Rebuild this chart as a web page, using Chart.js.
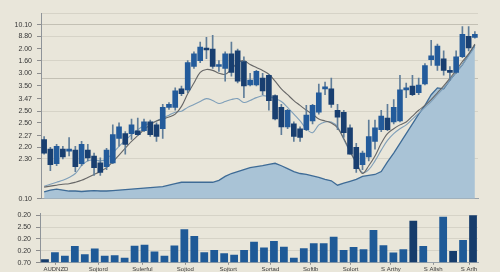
<!DOCTYPE html>
<html>
<head>
<meta charset="utf-8">
<script src="https://cdn.jsdelivr.net/npm/chart.js@4.4.1/dist/chart.umd.min.js"></script>
<style>
  html, body { margin: 0; padding: 0; background: #e9e6da; }
  #wrap { position: relative; width: 500px; height: 272px; overflow: hidden; }
  #price { position: absolute; left: 0; top: 0; }
  #vol   { position: absolute; left: 0; top: 204px; }
</style>
</head>
<body>
<div id="wrap">
  <canvas id="price" width="500" height="208"></canvas>
  <canvas id="vol" width="500" height="68"></canvas>
</div>
<script>
/* global Chart */

// --- datos: velas (70 sesiones) ---
const opens  = [61, 51, 36, 51, 49, 50, 36, 50, 44, 37, 33, 37, 62, 67, 67, 70, 70, 79, 76, 72,
                94, 94, 113, 112, 136, 142, 155, 154, 136, 134, 149, 152, 141, 117, 117, 124, 127, 106, 94, 74,
                77, 72, 71, 80, 89, 113, 113, 91, 89, 73, 53, 35, 43, 59, 71, 83, 79, 80, 112, 116,
                109, 118, 143, 137, 144, 132, 130, 146, 167, 166];
const closes = [47, 35, 54, 43, 51, 33, 56, 42, 32, 27, 50, 66, 74, 56, 76, 66, 79, 66, 64, 94,
                97, 111, 108, 140, 149, 156, 153, 136, 138, 149, 130, 121, 116, 122, 131, 111, 101, 82, 74, 91,
                64, 63, 86, 96, 109, 115, 97, 84, 68, 46, 31, 47, 64, 73, 85, 71, 94, 112, 114, 107,
                117, 137, 147, 157, 132, 130, 146, 169, 155, 169];
const highs  = [64, 53, 56, 54, 63, 54, 59, 56, 47, 42, 52, 76, 78, 69, 82, 83, 82, 81, 78, 97,
                99, 114, 116, 142, 151, 161, 166, 168, 142, 151, 161, 154, 146, 129, 132, 129, 128, 107, 97, 92,
                79, 74, 96, 97, 118, 120, 124, 97, 91, 76, 57, 49, 81, 81, 91, 97, 102, 127, 119, 127,
                124, 139, 163, 159, 152, 136, 152, 177, 177, 172];
const lows   = [46, 29, 34, 41, 44, 28, 34, 39, 24, 24, 30, 36, 54, 46, 61, 65, 69, 64, 59, 62,
                92, 91, 106, 109, 134, 140, 144, 134, 131, 121, 126, 119, 104, 116, 116, 107, 91, 81, 66, 72,
                59, 59, 70, 77, 87, 107, 94, 71, 63, 46, 27, 30, 39, 51, 69, 70, 77, 79, 104, 106,
                107, 117, 137, 132, 127, 122, 129, 145, 152, 165];

// medias móviles y tendencia (área)
const maSlow = [12, 13, 14, 15, 15.5, 17, 19, 22, 25, 28, 32, 38, 45, 52, 59, 65, 71, 76, 80, 82,
                84, 87, 95, 108, 119, 130, 133, 132, 129, 128, 133, 140, 142, 138, 135, 132, 128, 121, 113, 107,
                101, 96, 91, 87, 82, 80, 78, 73, 62, 49, 37, 26, 34, 44, 57, 67, 72, 76, 79, 85,
                91, 96, 102, 109, 116, 124, 132, 141, 149, 159];
const maFast = [13, 15, 17, 19, 22, 26, 34, 39, 40, 39, 41, 47, 54, 60, 66, 71, 75, 78, 80, 83,
                86, 89, 90, 94, 97, 100, 103, 101, 98, 100, 102, 103, 99, 101, 104, 106, 105, 103, 100, 94,
                87, 80, 72, 68, 76, 79, 79, 74, 61, 48, 37, 27, 30, 39, 50, 60, 67, 72, 76, 82,
                88, 94, 100, 107, 114, 122, 130, 138, 147, 156];
const trend  = [7, 9, 10, 9, 8, 8, 7.5, 8, 8.5, 8, 8, 8.5, 9, 9.5, 10, 10.5, 11, 11.5, 12, 12.5,
                14, 15.5, 17, 17, 17, 17, 17, 17, 19, 23, 26, 28, 30, 32, 33, 34, 35.5, 36.5, 34, 31,
                28, 26, 25, 23.5, 22, 20, 18.5, 14, 16, 18, 20, 23, 24, 25, 28, 38, 47, 57, 67, 77,
                87, 96, 107, 114, 113, 122, 130, 138, 148, 158];

// ejes del panel de precio
const priceTickValues = [191, 179, 167, 154, 142, 129, 124, 116, 103, 90, 78, 65, 53, 41, 0];
const priceTickLabels = ['', '10.10', '8.80', '2.00', '1.60', '3.00', '', '3.50', '3.47', '2.50', '2.50', '2.27', '2.20', '2.30', '0.10'];
const priceGridLevels = [191, 179, 167, 142, 124, 90, 41];

// --- datos: volumen (44 barras, una vacía) ---
const volume = [3.7, 10.7, 7, 17, 8.7, 14.3, 7, 7.7, 5, 17.3, 18.3, 11.3, 7, 17.5, 33.7, 27, 10.7, 13, 9.7, 8,
                13, 21.3, 15.3, 22, 16.3, 5, 14.7, 19.7, 19.7, 26.3, 13, 16, 13.7, 33, 17.7, 10.3, 13.7, 42.3, 17, null,
                46.3, 12, 23, 48];
const volumeTickValues = [48, 36, 24, 12, 0];
const volumeTickLabels = ['0.20', '2.50', '0.20', '0.20', '0.70'];

// etiquetas de fecha (posición en unidades de barra de volumen)
const dateTickValues = [1.6, 5.85, 10.3, 14.6, 18.9, 23.15, 27.2, 31.2, 35.25, 39.5, 43.1];
const dateTickLabels = ['AUDNZD', 'Sojtord', 'Sulerful', 'Sojtod', 'Sojtort', 'Sortad', 'Softlb', 'Solort', 'S Arthy', 'S Allsh', 'S Arlh'];

// --- estilo ---
const FONT   = "'Liberation Sans', Arial, sans-serif";
const UP     = '#235b9b';
const DOWN   = '#193f70';
const WICK   = '#5f7d99';
const HEAVY  = [0, 37, 41, 43];   // barras de volumen en azul oscuro

const sessions = opens.map((_, i) => i + 1);
const volumeSlots = volume.map((_, i) => i + 1);

new Chart(document.getElementById('price'), {
  type: 'bar',
  data: {
    labels: sessions,
    datasets: [
      {
        type: 'bar',
        data: opens.map((o, i) => [o, closes[i]]),
        backgroundColor: ctx => closes[ctx.dataIndex] >= opens[ctx.dataIndex] ? UP : DOWN,
        barThickness: 5,
        grouped: false,
        order: 0,
      },
      {
        type: 'bar',
        data: lows.map((l, i) => [l, highs[i]]),
        backgroundColor: WICK,
        barThickness: 1,
        grouped: false,
        order: 1,
      },
      {
        type: 'line',
        data: maSlow,
        borderColor: '#676767',
        borderWidth: 1.1,
        pointRadius: 0,
        tension: 0.35,
        order: 2,
      },
      {
        type: 'line',
        data: maFast,
        borderColor: '#7f9fb9',
        borderWidth: 1.1,
        pointRadius: 0,
        tension: 0.35,
        order: 3,
      },
      {
        type: 'line',
        data: trend,
        fill: 'origin',
        backgroundColor: '#a9c3d6',
        borderColor: '#3e6b96',
        borderWidth: 1.3,
        pointRadius: 0,
        tension: 0,
        order: 4,
      },
    ],
  },
  options: {
    responsive: false,
    animation: false,
    layout: { padding: { left: 0, right: 22, top: 13, bottom: 0 } },
    plugins: { legend: { display: false }, tooltip: { enabled: false } },
    scales: {
      x: {
        offset: true,
        grid: { display: false },
        ticks: { display: false },
        border: { color: '#9aa3aa' },
        afterFit: s => { s.height = 4; },
      },
      y: {
        min: 0,
        max: 191,
        afterFit: s => { s.width = 41; },
        afterBuildTicks: s => { s.ticks = priceTickValues.map(v => ({ value: v })); },
        ticks: {
          autoSkip: false,
          padding: 5,
          color: '#363636',
          font: { family: FONT, size: 7 },
          callback: (v, i) => priceTickLabels[i],
        },
        grid: {
          tickLength: 4,
          color: ctx => {
            const v = ctx.tick && ctx.tick.value;
            if (!priceGridLevels.includes(v)) return 'rgba(0,0,0,0)';
            return (v === 179 || v === 124) ? '#c3c0b4' : '#d6d3c7';
          },
          tickColor: ctx => priceTickLabels[ctx.index] ? '#8d8d8d' : 'rgba(0,0,0,0)',
        },
        border: { color: '#8f9499' },
      },
    },
  },
});

new Chart(document.getElementById('vol'), {
  type: 'bar',
  data: {
    labels: volumeSlots,
    datasets: [{
      data: volume,
      backgroundColor: ctx => HEAVY.includes(ctx.dataIndex) ? '#163c6b' : '#1f5a97',
      barPercentage: 0.78,
      categoryPercentage: 1,
    }],
  },
  options: {
    responsive: false,
    animation: false,
    layout: { padding: { left: 0, right: 22, top: 9, bottom: 0 } },
    plugins: { legend: { display: false }, tooltip: { enabled: false } },
    scales: {
      x: {
        offset: true,
        grid: { display: false },
        ticks: { display: false },
        border: { color: '#9aa3aa' },
        afterFit: s => { s.height = 0; },
      },
      xl: {
        type: 'linear',
        position: 'bottom',
        offset: false,
        min: 0,
        max: 44,
        afterBuildTicks: s => { s.ticks = dateTickValues.map(v => ({ value: v })); },
        ticks: {
          autoSkip: false,
          maxRotation: 0,
          padding: 1,
          color: '#3a3a3a',
          font: { family: FONT, size: 6 },
          callback: (v, i) => dateTickLabels[i],
        },
        grid: { offset: false, drawOnChartArea: false, tickLength: 2, color: '#8d8d8d' },
        border: { display: false },
        afterFit: s => { s.height = 9; },
      },
      y: {
        min: 0,
        max: 50,
        afterFit: s => { s.width = 40; },
        afterBuildTicks: s => { s.ticks = volumeTickValues.map(v => ({ value: v })); },
        ticks: {
          autoSkip: false,
          padding: 5,
          color: '#363636',
          font: { family: FONT, size: 7 },
          callback: (v, i) => volumeTickLabels[i],
        },
        grid: { tickLength: 4, color: '#d6d3c7', tickColor: '#8d8d8d' },
        border: { color: '#8f9499' },
      },
    },
  },
});
</script>
</body>
</html>
